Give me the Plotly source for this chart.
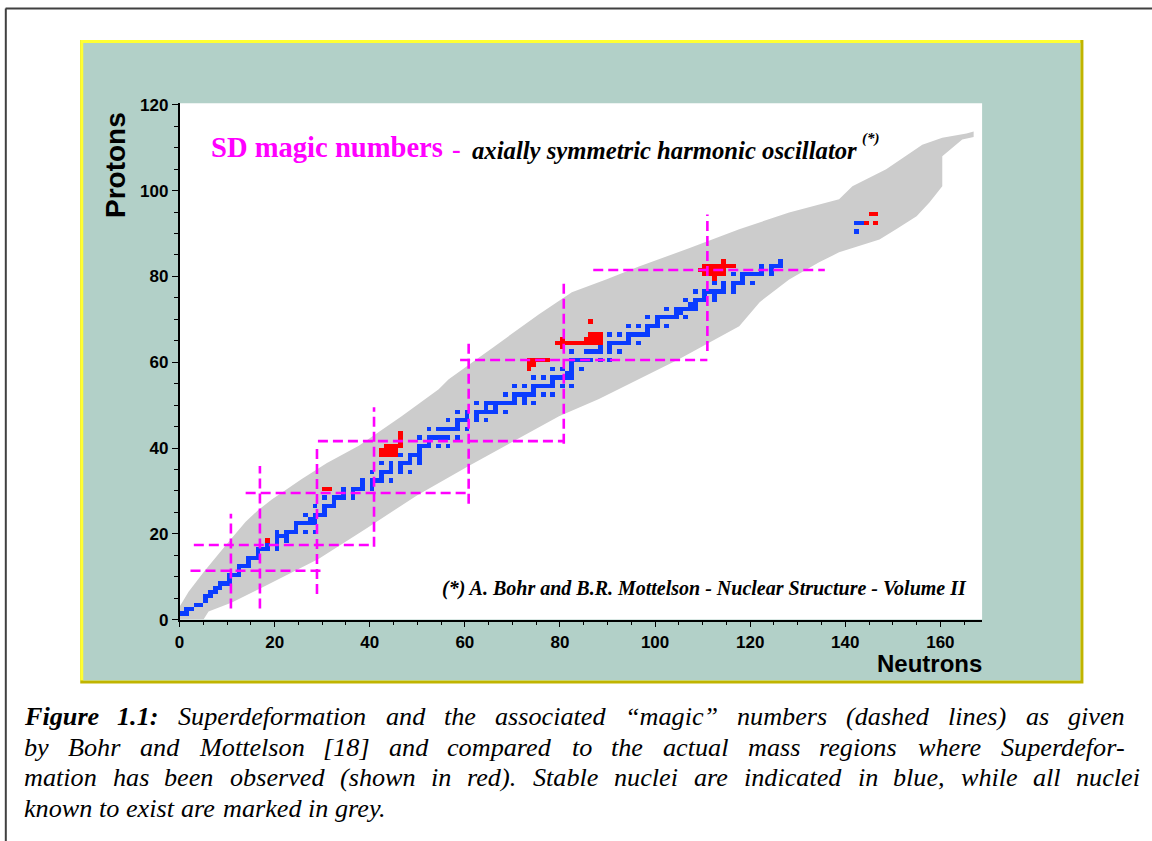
import numpy as np
import plotly.graph_objects as go

# Layout positions below are given in window pixels (1152 x 841).  The page
# body keeps an 8 px margin and the captured page is fitted to the window, so
# window pixels are mapped back to figure pixels with that offset and scale.
FIG_W, FIG_H = 1152, 849
OFFSET = 8
KX, KY = 0.9925, 0.981


def px(x):
    return ((x - OFFSET) / KX) / FIG_W


def py(y):
    return 1 - ((y - OFFSET) / KY) / FIG_H


# ---------------------------------------------------------------- data
# stable (and primordial) nuclei: proton number Z -> neutron numbers N
stable_n_by_z = {
    1: [0, 1], 2: [1, 2], 3: [3, 4], 4: [5], 5: [5, 6], 6: [6, 7], 7: [7, 8],
    8: [8, 9, 10], 9: [10], 10: [10, 11, 12], 11: [12], 12: [12, 13, 14],
    13: [14], 14: [14, 15, 16], 15: [16], 16: [16, 17, 18, 20], 17: [18, 20],
    18: [18, 20, 22], 19: [20, 21, 22], 20: [20, 22, 23, 24, 26, 28], 21: [24],
    22: [24, 25, 26, 27, 28], 23: [27, 28], 24: [26, 28, 29, 30], 25: [30],
    26: [28, 30, 31, 32], 27: [32], 28: [30, 32, 33, 34, 36], 29: [34, 36],
    30: [34, 36, 37, 38, 40], 31: [38, 40], 32: [38, 40, 41, 42, 44], 33: [42],
    34: [40, 42, 43, 44, 46, 48], 35: [44, 46], 36: [42, 44, 46, 47, 48, 50],
    37: [48, 50], 38: [46, 48, 49, 50], 39: [50], 40: [50, 51, 52, 54, 56],
    41: [52], 42: [50, 52, 53, 54, 55, 56, 58], 44: [52, 54, 55, 56, 57, 58, 60],
    45: [58], 46: [56, 58, 59, 60, 62, 64], 47: [60, 62],
    48: [58, 60, 62, 63, 64, 65, 66, 68], 49: [64, 66],
    50: [62, 64, 65, 66, 67, 68, 69, 70, 72, 74], 51: [70, 72],
    52: [68, 70, 71, 72, 73, 74, 76, 78], 53: [74],
    54: [70, 72, 74, 75, 76, 77, 78, 80, 82], 55: [78],
    56: [74, 76, 78, 79, 80, 81, 82], 57: [81, 82], 58: [78, 80, 82, 84],
    59: [82], 60: [82, 83, 84, 85, 86, 88, 90], 62: [82, 85, 86, 87, 88, 90, 92],
    63: [88, 90], 64: [88, 90, 91, 92, 93, 94, 96], 65: [94],
    66: [90, 92, 94, 95, 96, 97, 98], 67: [98], 68: [94, 96, 98, 99, 100, 102],
    69: [100], 70: [98, 100, 101, 102, 103, 104, 106], 71: [104, 105],
    72: [102, 104, 105, 106, 107, 108], 73: [107, 108],
    74: [106, 108, 109, 110, 112], 75: [110, 112],
    76: [108, 110, 111, 112, 113, 114, 116], 77: [114, 116],
    78: [112, 114, 116, 117, 118, 120], 79: [118],
    80: [116, 118, 119, 120, 121, 122, 124], 81: [122, 124],
    82: [122, 124, 125, 126], 83: [126], 90: [142], 92: [142, 143, 146],
}

# nuclei where superdeformation has been observed: Z -> N
sd_n_by_z = {
    18: [18],
    30: [30, 31],
    38: [42, 43, 44, 45], 39: [42, 43, 44, 45], 40: [43, 44, 45, 46],
    41: [46], 42: [46], 43: [46],
    58: [73], 59: [73, 74], 60: [73, 74, 75, 76, 77],
    63: [80], 64: [79, 80, 81, 82, 83, 84, 85, 86, 87, 88],
    65: [80, 85, 86, 87, 88], 66: [86, 87, 88], 69: [86],
    79: [112], 80: [110, 111, 112, 113, 114], 81: [109, 110, 111, 112, 113, 114],
    82: [110, 111, 112, 113, 114, 115, 116], 83: [114],
    92: [144, 146], 94: [145, 146],
}

# outline of all known nuclei (N, Z): proton-rich edge upwards ...
known_upper_edge = [
    (0, 0), (0, 3), (1.9, 6.5), (5, 11), (8.2, 15.3), (11, 19), (13.9, 22.8),
    (16.5, 25.5), (19.4, 28), (25.7, 32.8), (31, 36.5), (37.7, 40.5),
    (46.7, 47.4), (54.5, 53.7), (56.6, 56), (66, 63.5), (75.6, 71.2),
    (82.5, 76.3), (89.7, 79.3), (96.6, 82.3), (107, 86.5), (117.7, 91),
    (128.2, 94.9), (138.7, 98), (141.5, 101), (148.6, 105), (156.2, 110.7),
    (160.4, 112.3), (165.5, 113.3), (167, 113.8),
]
# ... and neutron-rich edge back down
known_lower_edge = [
    (167, 112.5), (164.6, 111.9), (160.4, 108), (160.4, 101), (157.7, 97.2),
    (155, 94), (150.7, 91), (147.2, 88.6), (138.7, 85.6), (134.5, 83.3),
    (128.2, 79.3), (122, 74), (117.7, 68.4), (105, 60.7), (88.2, 51.4),
    (79.8, 47.4), (60.8, 35.8), (50, 29), (39.2, 21.2), (29.3, 14.2),
    (18.1, 7.9), (11, 4), (6.1, 1.9), (5, 0),
]

# SD magic-number guide lines
h_magic_lines = [  # (Z, N from, N to)
    (11.4, 2.3, 30.6), (17.4, 3.0, 40.7), (29.5, 13.9, 60.8),
    (41.6, 29.1, 80.8), (60.5, 59.0, 111.0), (81.5, 87.0, 135.7),
]
v_magic_lines = [  # (N, Z from, Z to)
    (10.8, 2.6, 24.7), (16.9, 2.6, 35.8), (28.9, 6.0, 39.8), (40.9, 17.0, 49.5),
    (60.8, 27.0, 64.5), (80.8, 41.0, 79.3), (111.0, 62.6, 94.4),
]

x_ticks = [0, 20, 40, 60, 80, 100, 120, 140, 160]
y_ticks = [0, 20, 40, 60, 80, 100, 120]

caption_lines = [
    "Figure 1.1: Superdeformation and the associated \u201cmagic\u201d numbers (dashed lines) as given",
    "by Bohr and Mottelson [18] and compared to the actual mass regions where Superdefor-",
    "mation has been observed (shown in red). Stable nuclei are indicated in blue, while all nuclei",
    "known to exist are marked in grey.",
]

# ---------------------------------------------------------------- style
TEAL = "#b2d0c8"
YELLOW = "#ffff33"
OLIVE = "#c0b400"
GREY = "#cccccc"
BLUE = "#0a3cff"
RED = "#ff0000"
MAGENTA = "#ff00ff"
SANS = "Liberation Sans, Arial, sans-serif"
SERIF = "Liberation Serif, Times New Roman, serif"

X0_PX, X1_PX = 182, 982
Y0_PX, Y1_PX = 621, 103.5
N_RANGE = [0, (X1_PX - X0_PX) / 4.74]
Z_RANGE = [0, (Y0_PX - Y1_PX) / 4.3]

fig = go.Figure()

# cells: stable nuclei (1) and superdeformed ones (2)
n_cells = np.arange(0, 170)
z_cells = np.arange(0, 116)
grid = np.full((len(z_cells), len(n_cells)), np.nan)
for z, ns in stable_n_by_z.items():
    for n in ns:
        grid[z, n] = 1
for z, ns in sd_n_by_z.items():
    for n in ns:
        grid[z, n] = 2

fig.add_trace(go.Heatmap(
    x=n_cells + 0.5, y=z_cells + 0.5, z=grid,
    colorscale=[[0, BLUE], [0.5, BLUE], [0.5, RED], [1, RED]],
    zmin=1, zmax=2, showscale=False, hoverinfo="skip", zsmooth=False,
))

for z, n_a, n_b in h_magic_lines:
    fig.add_trace(go.Scatter(
        x=[n_a, n_b], y=[z, z], mode="lines", hoverinfo="skip",
        line=dict(color=MAGENTA, width=2.6, dash="10px,5px"), showlegend=False,
    ))
for n, z_a, z_b in v_magic_lines:
    fig.add_trace(go.Scatter(
        x=[n, n], y=[z_a, z_b], mode="lines", hoverinfo="skip",
        line=dict(color=MAGENTA, width=2.6, dash="10px,5px"), showlegend=False,
    ))

# ---------------------------------------------------------------- shapes
band = known_upper_edge + known_lower_edge
band_path = "M " + " L ".join(f"{n},{z}" for n, z in band) + " Z"

shapes = [
    # yellow frame with its darker lower/right edge
    dict(type="rect", xref="paper", yref="paper", layer="below",
         x0=px(83), x1=px(1083), y0=py(685), y1=py(40),
         fillcolor=OLIVE, line_width=0),
    dict(type="rect", xref="paper", yref="paper", layer="below",
         x0=px(83), x1=px(1080), y0=py(682), y1=py(40),
         fillcolor=YELLOW, line_width=0),
    dict(type="rect", xref="paper", yref="paper", layer="below",
         x0=px(86), x1=px(1080), y0=py(682), y1=py(43),
         fillcolor=TEAL, line_width=0),
    # white drawing area
    dict(type="rect", xref="paper", yref="paper", layer="below",
         x0=px(X0_PX), x1=px(X1_PX), y0=py(Y0_PX), y1=py(Y1_PX),
         fillcolor="white", line_width=0),
    # page border
    dict(type="line", xref="paper", yref="paper", x0=0.0005, x1=1.01,
         y0=0.9993, y1=0.9993, line=dict(color="#404040", width=2)),
    dict(type="line", xref="paper", yref="paper", x0=0.0007, x1=0.0007,
         y0=0.9993, y1=-0.01, line=dict(color="#404040", width=2)),
    # known nuclei
    dict(type="path", xref="x", yref="y", layer="below", path=band_path,
         fillcolor=GREY, line_width=0),
]

# ---------------------------------------------------------------- text
annotations = [
    dict(text="Protons", x=px(118), y=py(165), textangle=-90,
         font=dict(family=SANS, size=28, color="black", weight="bold")),
    dict(text="Neutrons", x=px(930), y=py(665),
         font=dict(family=SANS, size=24, color="black", weight="bold")),
    dict(text="SD magic numbers", x=px(213), y=py(148), xanchor="left",
         font=dict(family=SERIF, size=28.6, color=MAGENTA, weight="bold")),
    dict(text="-", x=px(458), y=py(150),
         font=dict(family=SERIF, size=26, color=MAGENTA, weight="bold")),
    dict(text="<i>axially symmetric harmonic oscillator</i>", x=px(474),
         y=py(151), xanchor="left",
         font=dict(family=SERIF, size=24.7, color="black", weight="bold")),
    dict(text="<i>(*)</i>", x=px(862), y=py(139), xanchor="left",
         font=dict(family=SERIF, size=15, color="black", weight="bold")),
    dict(text="<i>(*) A. Bohr and B.R. Mottelson - Nuclear Structure - Volume II</i>",
         x=px(444), y=py(590), xanchor="left",
         font=dict(family=SERIF, size=20, color="black", weight="bold")),
]

# Times-compatible advance widths (1/1000 em) for justified caption lines
ITALIC_W = dict(zip(
    "abcdefghijklmnopqrstuvwxyz",
    [500, 500, 444, 500, 444, 278, 500, 500, 278, 278, 444, 278, 722, 500, 500,
     500, 500, 389, 389, 278, 500, 444, 667, 444, 444, 389]))
ITALIC_W.update({"A": 611, "B": 611, "F": 611, "M": 833, "N": 667, "S": 500,
                 "(": 333, ")": 333, ",": 250, "-": 333, ".": 250, ":": 333,
                 "[": 389, "]": 389, "\u201c": 556, "\u201d": 556, " ": 250})
BOLDIT_W = {"F": 667, "i": 278, "g": 500, "u": 556, "r": 389, "e": 444,
            "1": 500, ".": 250, ":": 333, " ": 250}

CAP_SIZE = 26.2
CAP_LEFT = 27
cap_right = [1124, 1126, 1140]
cap_y = [718, 749, 779, 810]


def word_width(word, table):
    return sum(table.get(ch, 500) for ch in word) * CAP_SIZE / 1000.0


for li, line in enumerate(caption_lines):
    words = line.split(" ")
    bold_count = 2 if li == 0 else 0
    widths = [word_width(w, BOLDIT_W if i < bold_count else ITALIC_W)
              for i, w in enumerate(words)]
    if li < len(cap_right):
        gap = (cap_right[li] - CAP_LEFT - sum(widths)) / (len(words) - 1)
    else:
        gap = 250 * CAP_SIZE / 1000.0
    x = CAP_LEFT
    for i, (w, wd) in enumerate(zip(words, widths)):
        annotations.append(dict(
            text=f"<i>{w}</i>", x=px(x), y=py(cap_y[li]), xanchor="left",
            font=dict(family=SERIF, size=CAP_SIZE, color="black",
                      weight="bold" if i < bold_count else "normal")))
        x += wd + gap

for a in annotations:
    a.update(xref="paper", yref="paper", showarrow=False, borderpad=0,
             borderwidth=0)
    a.setdefault("xanchor", "center")
    a.setdefault("yanchor", "middle")

tick_font = dict(family=SANS, size=17, color="black", weight="bold")

fig.update_layout(
    width=FIG_W, height=FIG_H,
    margin=dict(l=0, r=0, t=0, b=0),
    paper_bgcolor="white", plot_bgcolor="white",
    showlegend=False,
    shapes=shapes, annotations=annotations,
    xaxis=dict(
        domain=[px(X0_PX), px(X1_PX)], range=N_RANGE, tickvals=x_ticks,
        ticks="outside", ticklen=6, tickwidth=1, tickcolor="black",
        showline=True, linecolor="black", linewidth=1.5, showgrid=False,
        zeroline=False, tickfont=tick_font, ticklabelstandoff=0,
        minor=dict(dtick=5, tick0=0, ticks="outside", ticklen=4,
                   tickcolor="black", showgrid=False),
    ),
    yaxis=dict(
        domain=[py(Y0_PX), py(Y1_PX)], range=Z_RANGE, tickvals=y_ticks,
        ticks="outside", ticklen=6, tickwidth=1, tickcolor="black",
        showline=True, linecolor="black", linewidth=1.5, showgrid=False,
        zeroline=False, tickfont=tick_font, ticklabelstandoff=0,
        minor=dict(dtick=5, tick0=0, ticks="outside", ticklen=4,
                   tickcolor="black", showgrid=False),
    ),
)

fig.write_html("out.html")
